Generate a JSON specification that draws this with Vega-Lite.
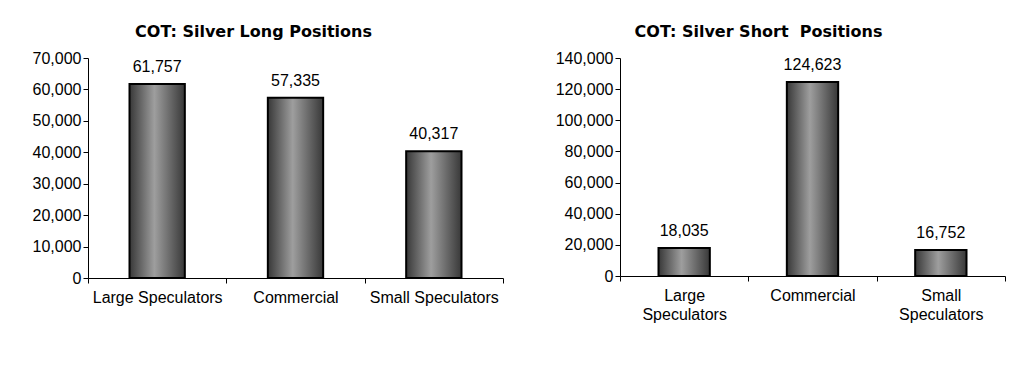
{
  "$schema": "https://vega.github.io/schema/vega-lite/v6.json",
  "background": "white",
  "padding": {"left": 32, "top": 24, "right": 5, "bottom": 5},
  "datasets": {
    "long": [
      {"group": "Large Speculators", "value": 61757},
      {"group": "Commercial", "value": 57335},
      {"group": "Small Speculators", "value": 40317}
    ],
    "short": [
      {"group": "Large Speculators", "value": 18035},
      {"group": "Commercial", "value": 124623},
      {"group": "Small Speculators", "value": 16752}
    ]
  },
  "spacing": 51,
  "hconcat": [
    {
      "title": {"text": "COT: Silver Long Positions", "dx": -42},
      "width": 415,
      "height": 220,
      "data": {"name": "long"},
      "encoding": {
        "x": {"field": "group", "type": "nominal", "sort": null,
          "scale": {"paddingInner": 0, "paddingOuter": 0},
          "axis": {"title": null, "labelAngle": 0, "tickBand": "extent", "labelPadding": 6, "tickSize": 5}},
        "y": {"field": "value", "type": "quantitative",
          "scale": {"domain": [0, 70000]},
          "axis": {"title": null, "values": [0, 10000, 20000, 30000, 40000, 50000, 60000, 70000], "format": ",.0f", "tickSize": 5, "labelPadding": 2}}
      },
      "layer": [
        {"mark": {"type": "bar", "width": {"band": 0.4},
          "color": {"gradient": "linear", "x1": 0, "x2": 1, "y1": 0, "y2": 0,
            "stops": [{"offset": 0, "color": "#383838"}, {"offset": 0.45, "color": "#9e9e9e"}, {"offset": 1, "color": "#383838"}]},
          "stroke": "black", "strokeWidth": 2}},
        {"mark": {"type": "text", "baseline": "bottom", "dy": -9, "font": "Liberation Sans", "fontSize": 16, "color": "black"},
          "encoding": {"text": {"field": "value", "type": "quantitative", "format": ",.0f"}}}
      ]
    },
    {
      "title": {"text": "COT: Silver Short\u00a0 Positions", "dx": -54},
      "width": 385,
      "height": 218,
      "data": {"name": "short"},
      "encoding": {
        "x": {"field": "group", "type": "nominal", "sort": null,
          "scale": {"paddingInner": 0, "paddingOuter": 0},
          "axis": {"title": null, "labelAngle": 0, "tickBand": "extent", "labelPadding": 6, "tickSize": 5,
            "labelExpr": "split(datum.label, ' ')", "labelLineHeight": 19}},
        "y": {"field": "value", "type": "quantitative",
          "scale": {"domain": [0, 140000]},
          "axis": {"title": null, "values": [0, 20000, 40000, 60000, 80000, 100000, 120000, 140000], "format": ",.0f", "tickSize": 5, "labelPadding": 2}}
      },
      "layer": [
        {"mark": {"type": "bar", "width": {"band": 0.4},
          "color": {"gradient": "linear", "x1": 0, "x2": 1, "y1": 0, "y2": 0,
            "stops": [{"offset": 0, "color": "#383838"}, {"offset": 0.45, "color": "#9e9e9e"}, {"offset": 1, "color": "#383838"}]},
          "stroke": "black", "strokeWidth": 2}},
        {"mark": {"type": "text", "baseline": "bottom", "dy": -9, "font": "Liberation Sans", "fontSize": 16, "color": "black"},
          "encoding": {"text": {"field": "value", "type": "quantitative", "format": ",.0f"}}}
      ]
    }
  ],
  "config": {
    "view": {"stroke": null},
    "title": {"font": "DejaVu Sans", "fontSize": 16, "fontWeight": "bold", "color": "black", "offset": 10},
    "axis": {"labelFont": "Liberation Sans", "labelFontSize": 16, "labelColor": "black", "domainColor": "black", "tickColor": "black", "grid": false, "domainWidth": 1, "tickWidth": 1}
  }
}
